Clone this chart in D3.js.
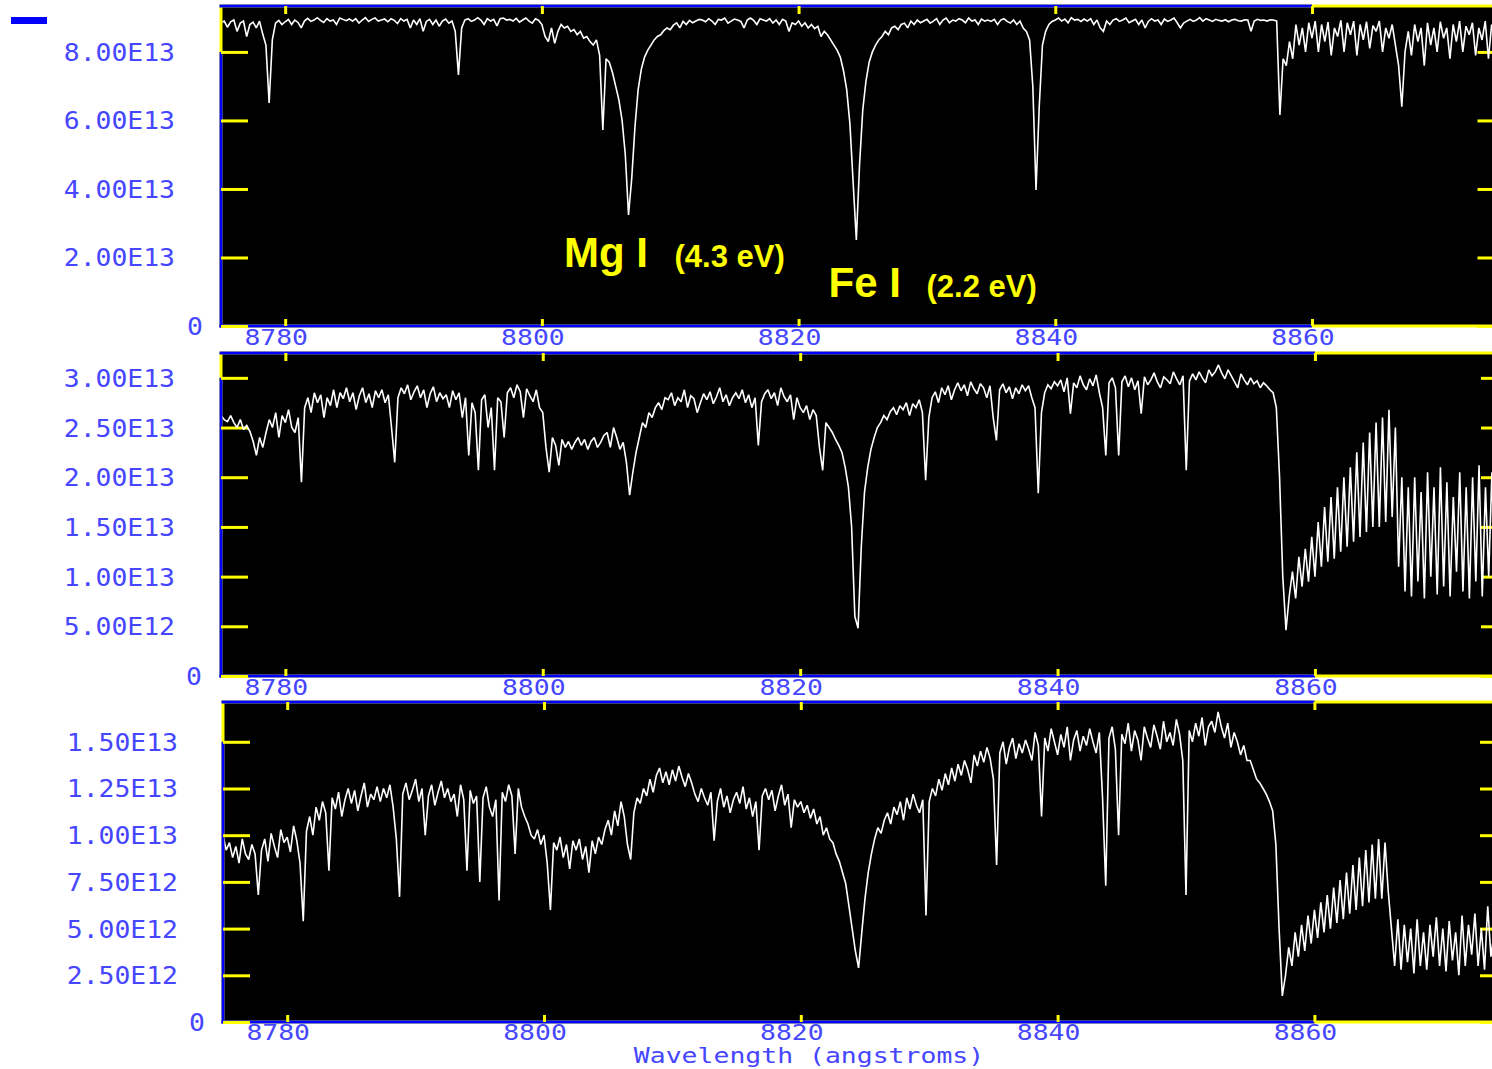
<!DOCTYPE html>
<html><head><meta charset="utf-8">
<script src="https://cdn.jsdelivr.net/npm/d3@7"></script>
<style>html,body{margin:0;padding:0;background:#fff;overflow:hidden}</style>
</head><body>
<svg id="c" width="1492" height="1069"></svg>
<script>
// Wavelength grid (Angstrom): sample i is at waveStart + i*waveStep
const waveStart = 8775, waveStep = 0.25;
const xTickValues = [8780, 8800, 8820, 8840, 8860];
const xTickLabels = ["8780", "8800", "8820", "8840", "8860"];
const xAxisTitle = "Wavelength (angstroms)";

// Flux in units of 1E11
const fluxTop = [
885,890,872,888,893,860,884,890,845,880,
887,870,890,852,820,651,835,884,892,880,
888,895,880,893,886,870,890,898,889,893,
900,892,886,897,890,893,880,899,895,891,
896,890,897,884,893,900,889,895,899,890,
893,896,888,897,892,883,897,890,895,870,
893,880,897,860,889,895,880,893,875,890,
896,884,890,860,733,870,893,897,889,893,
900,893,880,897,890,895,876,897,899,893,
895,890,898,887,893,899,890,884,897,892,
880,845,830,870,825,860,880,870,875,860,
865,850,860,840,845,830,820,835,790,572,
780,770,740,700,660,600,500,324,430,580,
690,750,785,805,820,835,845,850,862,870,
865,878,885,870,889,880,892,885,890,895,
893,888,897,890,880,895,893,899,884,890,
896,893,889,870,893,899,892,880,897,893,
890,897,884,893,880,895,890,860,885,880,
890,875,885,870,880,868,875,845,860,850,
835,820,805,785,745,690,590,420,251,470,
630,715,770,800,820,835,845,860,850,870,
875,865,880,884,870,890,880,893,885,890,
895,884,890,897,880,893,899,885,893,890,
897,893,885,899,890,893,880,896,890,893,
889,895,880,893,897,889,884,893,880,890,
870,860,835,700,397,640,820,860,880,889,
893,899,890,896,885,900,893,895,889,896,
890,897,880,893,870,860,890,880,893,897,
889,893,899,885,890,895,880,893,870,889,
897,890,893,880,896,889,893,899,885,870,
884,890,895,889,893,900,890,897,893,889,
895,892,890,894,888,893,895,891,890,894,
893,860,890,895,892,893,890,894,893,890,
616,780,760,830,780,880,820,870,800,885,
840,890,800,880,830,887,790,870,845,892,
800,885,850,890,790,880,835,888,810,877,
860,890,800,870,840,880,820,760,640,800,
860,790,880,830,870,760,885,820,870,800,
888,840,870,780,880,830,890,800,875,850,
885,790,870,835,890,780,880];

const fluxMid = [
262,258,256,262,255,250,258,248,252,246,
236,222,240,230,245,258,250,265,240,262,
255,268,250,245,260,195,270,280,265,285,
275,283,260,280,272,288,270,285,279,290,
276,285,268,282,290,275,284,270,287,280,
288,275,283,250,215,280,290,284,293,278,
286,292,280,288,270,284,291,276,285,279,
283,270,287,278,285,260,280,222,275,265,
207,278,283,250,270,207,280,276,240,285,
290,280,293,286,260,289,282,276,288,270,
265,230,205,240,232,212,238,230,236,228,
235,240,232,238,228,236,240,230,235,242,
245,230,250,240,228,235,215,182,205,225,
240,255,250,265,260,270,275,268,280,278,
285,272,280,276,288,270,282,279,265,275,
284,278,286,274,281,290,276,283,272,280,
285,279,288,275,283,270,280,232,276,284,
288,279,285,272,290,281,276,283,258,280,
270,265,272,258,268,262,230,207,255,250,
245,238,232,225,210,190,150,60,48,130,
185,210,228,240,250,255,262,258,266,270,
263,272,268,275,262,274,270,278,265,197,
260,280,286,275,290,283,292,278,288,295,
287,293,282,296,289,284,294,290,280,292,
260,237,288,294,285,291,279,290,284,293,
287,292,280,270,184,265,285,293,289,296,
292,298,286,300,264,295,290,302,293,288,
299,292,303,285,270,222,295,300,290,222,
296,302,291,300,288,297,264,301,293,298,
305,296,290,301,298,294,306,299,293,302,
207,297,304,298,306,300,295,308,302,306,
313,305,299,308,302,296,290,304,298,293,
300,294,297,290,295,292,288,285,270,200,
100,46,80,105,78,120,90,128,95,140,
100,155,110,170,115,180,118,190,125,200,
130,210,135,225,140,235,145,245,150,255,
150,260,155,268,160,250,110,200,85,190,
80,200,95,185,78,205,100,190,82,210,
90,195,80,180,105,205,85,190,78,200,
95,212,80,190,100,205,88];

const fluxBot = [
100,92,96,88,94,85,98,90,87,95,
90,68,92,98,86,101,94,88,103,96,
99,91,105,97,85,54,102,110,100,115,
108,118,112,81,120,114,123,110,119,125,
117,124,113,121,128,115,122,119,126,118,
125,120,127,115,98,67,122,128,119,124,
130,118,125,100,121,127,116,123,129,120,
125,118,122,110,127,119,81,124,117,121,
75,120,126,115,110,119,65,123,118,127,
121,90,125,115,110,106,100,98,103,95,
100,85,60,96,92,99,88,95,82,97,
92,98,87,94,80,97,90,99,95,103,
108,100,113,105,118,110,95,87,112,120,
117,125,121,130,123,132,136,128,134,127,
135,129,137,131,126,133,128,122,118,125,
120,116,123,97,118,125,115,121,112,119,
123,117,126,114,120,110,118,92,121,125,
119,124,113,121,127,116,122,104,119,115,
118,112,116,109,114,106,110,100,104,98,
96,90,86,80,74,62,50,38,29,48,
66,80,90,98,104,101,108,112,106,115,
111,118,108,120,114,122,116,112,119,57,
118,125,121,130,124,133,127,136,129,138,
132,140,135,128,143,137,145,139,147,141,
130,84,144,150,138,147,152,141,149,144,
151,146,140,155,148,110,152,145,157,150,
143,154,147,158,140,151,156,145,153,148,
157,150,144,155,120,73,152,158,146,100,
154,149,160,145,156,151,140,158,152,147,
159,153,146,161,150,155,148,162,154,140,
68,156,150,160,153,163,148,158,161,155,
166,158,152,160,147,155,150,143,148,140,
140,135,130,128,125,122,118,113,95,50,
14,25,40,30,48,35,52,38,57,42,
60,45,64,48,68,50,72,53,76,55,
80,58,84,60,88,62,92,64,95,66,
98,66,96,70,50,30,55,28,52,32,
50,26,55,30,48,28,52,35,56,30,
50,27,54,33,48,25,57,30,52,36,
58,30,50,28,62,35,48];

const yTicksTop = [0, 200, 400, 600, 800];
const yLabelsTop = ["0", "2.00E13", "4.00E13", "6.00E13", "8.00E13"];
const yTicksMid = [0, 50, 100, 150, 200, 250, 300];
const yLabelsMid = ["0", "5.00E12", "1.00E13", "1.50E13", "2.00E13", "2.50E13", "3.00E13"];
const yTicksBot = [0, 25, 50, 75, 100, 125, 150];
const yLabelsBot = ["0", "2.50E12", "5.00E12", "7.50E12", "1.00E13", "1.25E13", "1.50E13"];

const annoMain = ["Mg I", "Fe I"];
const annoSub = ["(4.3 eV)", "(2.2 eV)"];

// ---------- layout ----------
const BLUE = "#0000ff", YEL = "#ffff00", TXT = "#4646ff";
const MONO = "'DejaVu Sans Mono', monospace";
const svg = d3.select("#c");

svg.append("rect").attr("x", 11).attr("y", 17).attr("width", 36).attr("height", 7).attr("fill", BLUE);

const panels = [
  {flux: fluxTop, ticks: yTicksTop, labels: yLabelsTop, left: 221, right: 1504.5, top: 6, bottom: 326, ymax: 934, labR: 175, zeroR: 203, xlabY: 345},
  {flux: fluxMid, ticks: yTicksMid, labels: yLabelsMid, left: 221, right: 1508, top: 353, bottom: 676, ymax: 325, labR: 175, zeroR: 202, xlabY: 695},
  {flux: fluxBot, ticks: yTicksBot, labels: yLabelsBot, left: 223, right: 1507, top: 702, bottom: 1022, ymax: 171.3, labR: 178, zeroR: 205, xlabY: 1040}
];

panels.forEach((p, pi) => {
  const x = d3.scaleLinear().domain([8775, 8875]).range([p.left, p.right]);
  const y = d3.scaleLinear().domain([0, p.ymax]).range([p.bottom, p.top]);
  const g = svg.append("g");

  g.append("rect").attr("x", p.left).attr("y", p.top)
    .attr("width", p.right - p.left).attr("height", p.bottom - p.top).attr("fill", "#000");
  g.append("rect").attr("x", p.left).attr("y", p.top)
    .attr("width", p.right - p.left).attr("height", p.bottom - p.top)
    .attr("fill", "none").attr("stroke", YEL).attr("stroke-width", 3);
  const topTick = d3.max(p.ticks);
  g.append("line").attr("x1", p.left).attr("x2", p.left).attr("y1", p.bottom + 1.5).attr("y2", y(topTick))
    .attr("stroke", BLUE).attr("stroke-width", 3);
  const lastX = x(d3.max(xTickValues));
  [p.top, p.bottom].forEach(yy => {
    g.append("line").attr("x1", p.left - 1.5).attr("x2", lastX).attr("y1", yy).attr("y2", yy)
      .attr("stroke", BLUE).attr("stroke-width", 3);
  });

  const styleAxis = sel => {
    sel.select(".domain").remove();
    sel.selectAll(".tick line").attr("stroke", YEL).attr("stroke-width", 3);
    sel.selectAll(".tick text").remove();
  };
  g.append("g").attr("transform", `translate(${p.left},0)`)
    .call(d3.axisRight(y).tickValues(p.ticks).tickSize(27).tickFormat("")).call(styleAxis);
  g.append("g").attr("transform", `translate(${p.right},0)`)
    .call(d3.axisLeft(y).tickValues(p.ticks).tickSize(27).tickFormat("")).call(styleAxis);
  g.append("g").attr("transform", `translate(0,${p.top})`)
    .call(d3.axisBottom(x).tickValues(xTickValues).tickSize(8).tickFormat("")).call(styleAxis);
  g.append("g").attr("transform", `translate(0,${p.bottom})`)
    .call(d3.axisTop(x).tickValues(xTickValues).tickSize(7).tickFormat("")).call(styleAxis);

  const cid = "clip" + pi;
  svg.append("clipPath").attr("id", cid).append("rect")
    .attr("x", p.left + 1.5).attr("y", p.top + 1.5)
    .attr("width", p.right - p.left - 3).attr("height", p.bottom - p.top - 3);
  const line = d3.line()
    .x((d, i) => x(waveStart + i * waveStep))
    .y(d => y(d))
    .curve(d3.curveLinear);
  g.append("path").datum(p.flux).attr("clip-path", `url(#${cid})`)
    .attr("d", line).attr("fill", "none").attr("stroke", "#fff")
    .attr("stroke-width", 1.6).attr("stroke-linejoin", "miter").attr("stroke-miterlimit", 2);

  p.ticks.forEach((t, k) => {
    const rx = t === 0 ? p.zeroR : p.labR;
    svg.append("text")
      .attr("transform", `translate(${rx},${y(t) + 9}) scale(1.1,1)`)
      .attr("text-anchor", "end").attr("font-family", MONO).attr("font-size", 24)
      .attr("fill", TXT).text(p.labels[k]);
  });
  xTickValues.forEach((v, k) => {
    svg.append("text")
      .attr("transform", `translate(${x(v) - 9},${p.xlabY}) scale(1.2,1)`)
      .attr("text-anchor", "middle").attr("font-family", MONO).attr("font-size", 22)
      .attr("fill", TXT).text(xTickLabels[k]);
  });
});

svg.append("text")
  .attr("transform", `translate(809,1063) scale(1.26,1)`)
  .attr("text-anchor", "middle").attr("font-family", MONO).attr("font-size", 21)
  .attr("fill", TXT).text(xAxisTitle);

const BOLD = "'Liberation Sans', Arial, sans-serif";
const annoPos = [[564, 267, 674.5], [828.5, 297, 926.5]];
annoMain.forEach((t, k) => {
  svg.append("text").attr("x", annoPos[k][0]).attr("y", annoPos[k][1])
    .attr("font-family", BOLD).attr("font-weight", "bold").attr("font-size", 42)
    .attr("fill", YEL).text(t);
  svg.append("text").attr("x", annoPos[k][2]).attr("y", annoPos[k][1])
    .attr("font-family", BOLD).attr("font-weight", "bold").attr("font-size", 31)
    .attr("fill", YEL).text(annoSub[k]);
});
</script>
</body></html>
